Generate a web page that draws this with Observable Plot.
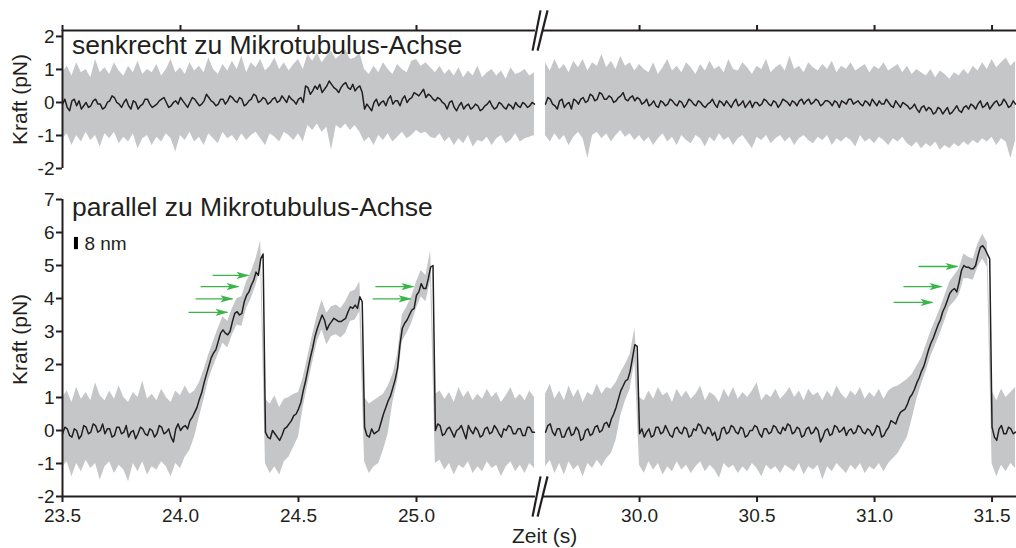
<!DOCTYPE html>
<html><head><meta charset="utf-8">
<script src="https://cdn.jsdelivr.net/npm/d3@7"></script>
<script src="https://cdn.jsdelivr.net/npm/@observablehq/plot@0.6"></script>
<style>
html,body{margin:0;padding:0;background:#fff;}
#chart{position:relative;width:1016px;height:548px;overflow:hidden;font-family:"Liberation Sans",Arial,sans-serif;}
#chart svg{position:absolute;left:0;}
</style></head><body><div id="chart"></div>
<script>
// ---- sampling of the traces (s) ----
const dtTrace = 0.01;   // black (filtered) trace
const dtBand = 0.02;    // grey raw-signal envelope
const leftStart = 23.50;
const rightStart = 29.60;

// ---- panel 1: senkrecht (perpendicular) ----
const perpLeftTrace = [-0.05,0.1,-0.15,-0.25,0.05,0.1,-0.1,0.05,-0.2,-0.1,0.0,-0.15,-0.1,0.05,0.1,-0.05,-0.05,-0.2,-0.15,0.0,
0.05,0.2,0.15,0.0,-0.05,-0.15,0.0,0.1,-0.1,-0.2,0.05,0.0,-0.2,-0.1,-0.05,0.1,0.1,-0.05,-0.15,-0.1,
-0.05,0.05,0.1,0.15,0.0,-0.15,-0.1,0.0,0.05,-0.05,0.15,0.05,-0.05,-0.15,0.0,0.15,0.1,0.0,-0.1,-0.05,
0.05,0.25,0.15,0.05,0.0,-0.1,-0.05,0.1,0.1,-0.05,0.05,0.2,0.15,0.05,0.0,0.15,0.1,-0.1,-0.05,0.05,
0.1,0.25,0.2,0.0,0.05,0.15,0.1,-0.05,0.0,0.1,0.15,0.0,0.05,0.2,0.1,0.0,0.2,0.1,0.05,-0.05,
0.1,0.15,0.0,0.5,0.45,0.25,0.35,0.5,0.4,0.55,0.3,0.4,0.5,0.65,0.55,0.45,0.4,0.3,0.45,0.55,
0.6,0.45,0.4,0.55,0.35,0.45,0.5,0.3,-0.2,-0.05,-0.15,-0.25,0.0,0.1,-0.1,0.0,0.05,-0.1,0.1,0.2,
-0.05,0.05,0.05,-0.1,0.1,0.2,0.0,0.1,0.15,0.3,0.25,0.2,0.3,0.4,0.15,0.25,0.2,0.1,0.05,0.15,
0.1,0.0,-0.05,-0.2,0.0,0.05,-0.15,-0.25,-0.1,0.0,-0.2,-0.1,-0.05,-0.2,-0.15,-0.05,-0.1,-0.25,-0.2,-0.1,
-0.05,0.05,-0.1,-0.2,-0.15,0.0,-0.05,-0.15,-0.2,-0.05,-0.1,-0.2,0.0,-0.1,-0.15,0.0,-0.05,-0.15,-0.1,0.0,
-0.05];
const perpLeftHi = [0.9,1.1,0.8,1.2,0.9,1.0,0.75,1.3,0.9,1.05,0.85,1.2,0.95,0.8,1.1,0.9,1.25,0.85,1.0,0.9,1.15,0.8,1.0,1.3,0.9,1.05,0.85,1.2,0.95,1.1,0.9,1.35,1.0,0.85,1.15,0.95,1.25,1.0,1.4,0.9,1.2,1.05,1.3,0.95,1.1,1.35,1.0,1.2,0.95,1.15,1.3,1.0,1.45,1.25,1.5,1.2,1.4,1.55,1.3,1.45,1.6,1.3,1.35,1.5,1.0,0.85,1.1,0.9,1.2,1.0,0.85,1.15,1.0,0.9,1.25,1.3,1.1,1.2,1.05,0.9,1.1,0.85,1.0,0.8,1.05,0.75,0.95,0.8,1.1,0.75,0.9,1.0,0.8,0.95,0.7,1.05,0.85,0.9,1.0,0.8,0.9];
const perpLeftLo = [-1.1,-0.95,-1.3,-1.0,-1.2,-0.9,-1.15,-1.0,-1.35,-0.95,-1.1,-0.9,-1.25,-1.05,-1.2,-0.95,-1.4,-1.1,-1.0,-1.3,-1.05,-1.2,-0.95,-1.1,-1.5,-1.0,-1.15,-0.9,-1.2,-1.05,-1.3,-0.95,-1.1,-1.25,-0.9,-1.1,-1.0,-1.2,-0.95,-1.15,-1.0,-0.9,-1.1,-1.3,-0.95,-1.05,-1.2,-0.9,-1.0,-1.15,-0.95,-1.2,-0.7,-0.85,-0.65,-0.9,-0.75,-1.45,-0.7,-0.8,-0.65,-0.85,-0.7,-0.9,-1.2,-1.05,-1.3,-1.0,-1.15,-0.95,-1.2,-1.05,-0.9,-1.1,-1.0,-0.85,-0.95,-0.9,-1.05,-1.1,-0.95,-1.2,-1.05,-1.3,-1.1,-1.25,-1.0,-1.35,-1.15,-1.2,-1.05,-1.3,-1.1,-1.0,-1.25,-1.15,-0.95,-1.2,-1.1,-1.05,-1.0];
const perpRightTrace = [-0.05,0.15,0.1,-0.05,-0.1,-0.2,0.05,0.1,-0.15,-0.05,0.0,-0.2,0.1,0.05,-0.05,0.1,0.15,0.0,0.05,0.25,
0.2,0.05,0.1,0.3,0.25,0.1,0.1,0.2,0.15,0.0,0.05,0.15,0.2,0.3,0.1,0.05,0.15,0.2,0.05,0.15,
0.1,-0.05,0.0,0.1,-0.1,-0.05,0.05,-0.1,-0.15,0.05,0.0,-0.1,-0.05,0.1,0.05,-0.05,-0.1,0.05,0.0,-0.15,
-0.05,0.1,0.05,-0.05,-0.1,0.05,0.0,-0.1,-0.15,-0.05,0.0,0.1,-0.05,-0.15,0.05,0.0,-0.1,0.05,-0.05,-0.15,
0.0,0.1,-0.1,-0.05,0.05,-0.15,-0.05,0.05,-0.15,0.0,0.0,-0.1,-0.05,0.1,0.05,-0.05,-0.1,0.05,0.0,-0.15,
-0.05,0.1,0.05,0.0,-0.1,0.05,0.0,-0.1,0.05,0.1,-0.05,0.05,0.1,-0.05,0.0,0.1,0.05,-0.1,-0.05,0.05,
0.05,0.0,-0.1,0.05,0.0,-0.15,0.05,0.0,-0.05,0.1,0.1,-0.05,0.0,0.05,-0.05,-0.1,0.05,0.0,-0.1,0.1,
0.0,-0.1,0.05,-0.05,-0.05,0.1,0.0,-0.1,-0.15,0.05,-0.05,-0.15,0.0,-0.05,-0.1,-0.2,-0.15,-0.05,-0.2,-0.3,
-0.15,-0.1,-0.25,-0.15,-0.2,-0.35,-0.3,-0.15,-0.2,-0.35,-0.25,-0.15,-0.35,-0.3,-0.2,-0.1,-0.25,-0.3,-0.15,-0.1,
-0.2,-0.05,-0.1,-0.2,-0.05,0.05,-0.15,-0.1,0.0,-0.2,-0.1,0.0,0.05,-0.1,-0.05,0.1,0.0,-0.15,-0.1,0.05,
-0.05];
const perpRightHi = [1.2,0.95,1.3,1.0,1.15,0.9,1.25,1.05,1.3,0.95,1.2,1.1,1.45,1.05,1.25,1.0,1.4,1.1,1.2,0.95,1.15,1.0,0.9,1.2,0.85,1.05,1.3,0.95,1.1,0.9,1.2,1.05,0.85,1.15,0.95,1.25,1.0,1.1,0.9,1.3,1.0,0.95,1.2,1.05,0.85,1.1,1.0,1.3,0.9,1.05,1.15,0.95,1.4,1.0,1.1,0.9,1.2,1.05,0.95,1.15,1.0,1.25,0.9,1.1,1.0,1.2,0.95,1.05,1.15,0.9,1.1,1.0,1.2,0.95,1.05,1.15,0.9,1.1,0.85,1.0,0.9,0.8,1.0,0.75,0.95,0.85,0.7,0.9,0.8,1.0,0.85,1.1,0.95,1.2,1.0,1.3,1.05,1.2,1.35,1.1,1.25];
const perpRightLo = [-1.0,-1.2,-0.95,-1.15,-1.0,-1.3,-1.05,-0.9,-1.1,-1.7,-1.0,-0.9,-1.1,-0.95,-1.2,-1.0,-0.85,-1.05,-0.95,-1.15,-1.0,-1.2,-1.05,-1.3,-1.1,-0.95,-1.2,-1.05,-1.3,-1.0,-1.15,-1.25,-1.0,-1.1,-1.35,-1.05,-1.2,-0.95,-1.15,-1.05,-1.3,-1.1,-1.0,-1.2,-1.4,-1.05,-1.15,-1.0,-1.25,-1.1,-1.0,-1.2,-1.05,-1.3,-1.1,-1.0,-1.15,-1.25,-1.05,-1.15,-1.0,-1.3,-1.1,-1.2,-1.05,-1.15,-1.35,-1.0,-1.2,-1.1,-1.25,-1.05,-1.15,-1.3,-1.1,-1.2,-1.05,-1.25,-1.35,-1.2,-1.4,-1.25,-1.35,-1.2,-1.45,-1.3,-1.4,-1.25,-1.35,-1.2,-1.3,-1.15,-1.25,-1.1,-1.2,-1.05,-1.3,-1.1,-1.2,-1.7,-1.15];

// ---- panel 2: parallel ----
const parLeftTrace = [-0.1,0.1,0.05,-0.15,-0.2,0.05,0.0,-0.25,-0.15,0.15,
0.1,-0.1,-0.05,0.2,0.15,-0.05,0.0,0.2,-0.1,0.05,
0.05,-0.2,-0.15,0.1,0.1,-0.1,-0.05,0.15,-0.2,-0.05,
0.0,-0.25,-0.1,0.1,0.05,-0.1,-0.15,0.05,0.0,-0.2,
-0.1,0.15,0.1,-0.1,-0.05,0.05,-0.2,-0.35,0.05,0.2,
0.0,0.1,0.15,0.05,0.3,0.4,0.55,0.7,0.95,1.15,
1.45,1.7,1.95,2.2,2.35,2.45,2.7,2.95,3.05,2.95,
2.9,3.0,3.3,3.55,3.6,3.5,3.55,3.9,4.1,4.2,
4.4,4.55,4.8,4.7,5.2,5.35,-0.05,-0.2,-0.25,0.0,
-0.1,-0.2,-0.3,-0.15,0.05,0.1,0.2,0.3,0.45,0.5,
0.65,0.85,1.2,1.5,1.85,2.2,2.5,2.85,3.1,3.3,
3.5,3.35,3.05,3.2,3.3,3.4,3.35,3.3,3.3,3.35,
3.4,3.6,3.75,3.7,3.8,3.7,4.05,3.9,0.1,-0.15,
-0.2,0.05,-0.1,-0.05,0.0,0.25,0.5,0.7,0.9,1.05,
1.3,1.55,1.9,2.6,3.1,3.25,3.35,3.5,3.65,3.7,
4.1,4.2,4.45,4.3,4.3,4.6,4.95,5.0,0.0,0.2,
0.15,-0.15,-0.1,0.05,0.1,-0.05,-0.2,0.0,0.05,0.15,
-0.05,-0.25,0.15,0.0,-0.1,0.1,0.0,-0.2,-0.15,0.05,
0.1,-0.1,-0.05,0.15,0.05,-0.1,-0.2,0.05,0.0,0.15,
0.1,-0.1,-0.1,0.05,0.05,-0.15,-0.15,0.1,0.1,-0.05,
-0.05];
const parLeftHi = [1.0,1.2,0.85,1.3,0.95,1.15,0.9,1.45,1.05,0.9,1.2,0.95,1.35,1.0,0.85,1.15,1.0,1.5,0.95,1.1,0.9,1.25,1.0,0.85,1.2,1.05,1.35,1.1,1.2,1.45,1.85,2.3,2.7,3.1,3.45,3.3,3.7,4.0,4.05,4.5,4.8,5.2,5.75,0.95,0.8,1.05,0.7,0.95,1.0,1.1,1.15,1.6,2.25,2.9,3.5,3.95,3.55,3.75,3.8,3.7,3.9,4.2,4.25,4.5,1.0,0.8,0.9,1.0,1.1,1.35,1.7,2.3,3.5,3.75,4.05,4.5,4.85,4.7,5.45,1.1,1.2,0.95,1.15,0.85,1.3,1.0,1.2,0.9,1.1,0.95,1.25,1.0,1.15,0.85,1.05,1.3,0.95,1.1,0.9,1.2,1.0];
const parLeftLo = [-1.1,-0.95,-1.4,-1.0,-1.25,-0.9,-1.15,-1.0,-1.5,-1.1,-0.95,-1.3,-1.05,-1.2,-1.55,-1.0,-1.25,-0.95,-1.35,-1.1,-1.2,-0.95,-1.1,-1.4,-1.0,-1.15,-0.8,-0.6,-0.2,0.4,0.95,1.55,1.95,2.3,2.65,2.5,2.9,3.2,3.15,3.7,4.0,4.4,4.95,-1.0,-1.3,-1.1,-1.35,-0.95,-0.8,-0.5,-0.2,0.7,1.4,2.05,2.7,3.05,2.6,2.85,2.9,2.8,2.95,3.3,3.35,3.6,-0.95,-1.3,-1.1,-1.0,-0.6,-0.1,0.85,1.5,2.7,2.95,3.25,3.7,4.05,3.9,4.55,-1.0,-0.9,-1.2,-1.0,-1.35,-1.05,-1.15,-0.95,-1.3,-1.1,-1.25,-0.95,-1.15,-1.05,-1.4,-1.1,-0.95,-1.25,-1.05,-1.3,-1.0,-1.15];
const parRightTrace = [-0.05,0.15,0.2,-0.05,-0.15,0.05,0.05,-0.2,-0.2,0.0,
0.1,-0.15,-0.1,0.1,0.0,-0.3,-0.25,0.0,0.05,-0.15,
-0.1,0.1,0.15,-0.05,0.0,0.2,0.25,0.1,0.35,0.5,
0.7,0.95,1.2,1.35,1.5,1.55,1.8,2.2,2.6,2.55,
-0.1,0.05,-0.2,-0.05,0.05,-0.2,-0.15,0.1,0.1,-0.1,
-0.05,0.15,0.0,-0.15,-0.2,0.05,0.1,-0.05,-0.1,0.1,
0.05,-0.2,-0.15,0.05,0.0,0.2,0.15,-0.05,-0.1,0.1,
0.05,-0.15,-0.05,-0.3,-0.25,0.05,0.1,-0.1,-0.05,0.15,
0.1,-0.05,-0.1,0.1,0.05,-0.2,-0.15,0.0,0.0,0.15,
0.1,-0.1,-0.2,0.05,0.05,-0.1,-0.05,0.15,0.1,-0.05,
-0.1,0.1,0.0,0.2,0.15,-0.1,-0.05,0.1,0.05,-0.2,
-0.15,0.05,0.1,-0.1,-0.05,0.1,0.0,-0.35,-0.2,0.0,
0.05,-0.15,-0.1,0.15,0.1,-0.05,0.0,0.1,-0.15,0.0,
0.05,-0.1,-0.05,0.15,0.1,-0.05,-0.1,0.05,0.0,-0.15,
-0.05,0.15,0.1,-0.2,-0.15,0.0,0.1,0.3,0.25,0.2,
0.4,0.55,0.6,0.65,0.8,1.0,1.1,1.25,1.45,1.6,
1.8,1.95,2.2,2.45,2.65,2.8,3.0,3.2,3.35,3.6,
3.75,3.95,4.15,4.25,4.3,4.2,4.5,4.85,5.0,4.95,
4.95,4.9,4.9,5.0,5.3,5.55,5.6,5.5,5.35,5.2,
0.1,-0.2,-0.3,0.05,0.15,-0.1,-0.1,0.1,0.05,-0.1,
-0.05];
const parRightHi = [1.1,1.4,0.95,1.2,0.9,1.35,1.0,1.25,0.85,1.15,1.05,1.4,1.1,1.3,1.25,1.45,1.75,2.0,2.3,3.1,1.0,0.9,1.2,0.95,1.3,1.05,1.15,0.85,1.25,1.0,1.2,0.95,1.1,1.35,0.9,1.15,1.05,0.85,1.25,1.0,1.3,0.95,1.15,1.0,1.2,1.45,0.9,1.1,1.0,1.25,0.95,1.1,1.3,1.0,1.2,0.9,1.25,1.05,1.15,0.9,1.2,1.0,1.35,1.1,0.95,1.2,1.05,1.3,0.95,1.15,1.0,1.25,0.95,1.2,1.3,1.35,1.45,1.55,1.7,1.95,2.2,2.6,3.0,3.35,3.7,4.1,4.5,4.7,4.9,5.35,5.25,5.2,5.65,5.95,5.7,1.2,0.9,1.25,1.0,1.15,1.3];
const parRightLo = [-1.1,-0.9,-1.3,-1.0,-1.35,-0.95,-1.2,-1.05,-1.4,-1.0,-1.15,-0.9,-1.1,-0.85,-0.7,-0.3,0.45,0.9,1.25,2.1,-1.05,-1.3,-0.95,-1.2,-1.0,-1.35,-1.1,-1.25,-0.95,-1.2,-1.05,-1.3,-1.1,-0.95,-1.25,-1.05,-1.2,-1.45,-1.0,-1.15,-1.05,-1.3,-1.1,-1.25,-1.0,-1.15,-1.4,-1.05,-1.2,-1.1,-1.3,-1.05,-1.15,-1.25,-1.0,-1.35,-1.1,-1.2,-1.05,-1.5,-1.1,-1.25,-1.0,-1.15,-1.3,-1.05,-1.2,-1.0,-1.3,-1.1,-1.2,-1.0,-1.25,-1.0,-0.85,-0.7,-0.45,-0.2,0.35,0.95,1.4,1.8,2.25,2.6,2.95,3.35,3.75,3.9,4.1,4.6,4.6,4.55,4.95,5.2,4.95,-1.0,-1.4,-1.05,-1.25,-1.0,-1.15];

// ---- green step arrows (time start, time end, force) ----
const arrowT1 = [24.136, 24.085, 24.064, 24.034, 24.826, 24.814, 31.187, 31.123, 31.081];
const arrowT2 = [24.288, 24.246, 24.220, 24.199, 24.987, 24.975, 31.353, 31.285, 31.247];
const arrowF  = [4.70, 4.36, 3.99, 3.58, 4.36, 3.99, 4.97, 4.36, 3.88];

// ---- axes ----
const xTicksLeft = [23.5, 24.0, 24.5, 25.0];
const xTicksRight = [30.0, 30.5, 31.0, 31.5];
const yTicksTop = [-2, -1, 0, 1, 2];
const yTicksBottom = [-2, -1, 0, 1, 2, 3, 4, 5, 6, 7];
const xDomainLeft = [23.5, 25.517];
const xDomainRight = [29.57, 31.604];
const yDomainTop = [-2, 2.18];
const yDomainBottom = [-2, 7];
const axisEndLeft = 25.504, axisStartRight = 29.587;
// break marks "//" (in right-hand time units)
const breakT1 = [29.5447, 29.566];
const breakT2 = [29.5787, 29.6085];

const titleTop = "senkrecht zu Mikrotubulus-Achse";
const titleBottom = "parallel zu Mikrotubulus-Achse";
const yLabel = "Kraft (pN)";
const xLabel = "Zeit (s)";
const scaleBarLabel = "8 nm";

const ink = "#231f20", gray = "#c5c6c8", green = "#3bb54a";
const font = "'Liberation Sans', Arial, Helvetica, sans-serif";

function traceRows(start, vals) {
  return vals.map((v, i) => ({t: start + i * dtTrace, v}));
}
function bandRows(start, hi, lo) {
  return hi.map((h, i) => ({t: start + i * dtBand, hi: h, lo: lo[i]}));
}
const arrows = arrowF.map((f, i) => ({t1: arrowT1[i], t2: arrowT2[i], f}));
const arrowsL = arrows.filter(d => d.t2 < 26);
const arrowsR = arrows.filter(d => d.t2 > 26);

const arrowHead = {
  draw(ctx) {
    ctx.moveTo(1, 0);
    ctx.lineTo(-12, -3.6);
    ctx.lineTo(-9, 0);
    ctx.lineTo(-12, 3.6);
    ctx.closePath();
  }
};

const W = 1016, left = 62, brk = 538;
const style = {fontFamily: font, color: ink, background: "transparent", overflow: "visible"};

function breaks(yc, half) {
  return breakT1.map((t, i) => ({x1: t, x2: breakT2[i], y1: yc - half, y2: yc + half}));
}

function panel({height, mt, mb, yDomain, yTicks, axisY, side, trace, band, extra}) {
  const isLeft = side === "L";
  return Plot.plot({
    width: W, height,
    marginTop: mt, marginBottom: mb,
    marginLeft: isLeft ? left : brk, marginRight: isLeft ? W - brk : 0,
    style,
    x: {domain: isLeft ? xDomainLeft : xDomainRight, axis: null},
    y: {domain: yDomain, axis: null},
    marks: [
      Plot.areaY(band, {x: "t", y1: "lo", y2: "hi", fill: gray}),
      Plot.lineY(trace, {x: "t", y: "v", stroke: ink, strokeWidth: 1.5}),
      Plot.ruleY([axisY], {x1: isLeft ? xDomainLeft[0] : axisStartRight, x2: isLeft ? axisEndLeft : xDomainRight[1], stroke: ink, strokeWidth: 2}),
      ...(isLeft ? [
        Plot.ruleX([xDomainLeft[0]], {y1: yDomain[0], y2: yDomain[1], stroke: ink, strokeWidth: 2}),
        Plot.axisY(yTicks, {anchor: "left", tickSize: 6, tickPadding: 2, strokeWidth: 2, fontSize: 19, tickFormat: d => String(d), label: null})
      ] : [
        Plot.link(breaks(axisY, 0.61), {x1: "x1", x2: "x2", y1: "y1", y2: "y2", stroke: ink, strokeWidth: 2.2})
      ]),
      ...extra
    ]
  });
}

const topLeft = panel({
  height: 180, mt: 30, mb: 12, yDomain: yDomainTop, yTicks: yTicksTop, axisY: yDomainTop[1], side: "L",
  trace: traceRows(leftStart, perpLeftTrace), band: bandRows(leftStart, perpLeftHi, perpLeftLo),
  extra: [
    Plot.axisX(xTicksLeft, {anchor: "top", tickSize: 6, strokeWidth: 2, tickFormat: () => "", label: null}),
    Plot.text([titleTop], {x: 23.54, y: 1.72, textAnchor: "start", fontSize: 26.5, fill: ink}),
    Plot.text([yLabel], {x: 23.322, y: 0.09, rotate: -90, fontSize: 21, fill: ink})
  ]
});
const topRight = panel({
  height: 180, mt: 30, mb: 12, yDomain: yDomainTop, yTicks: yTicksTop, axisY: yDomainTop[1], side: "R",
  trace: traceRows(rightStart, perpRightTrace), band: bandRows(rightStart, perpRightHi, perpRightLo),
  extra: [
    Plot.axisX(xTicksRight, {anchor: "top", tickSize: 6, strokeWidth: 2, tickFormat: () => "", label: null})
  ]
});
const bottomLeft = panel({
  height: 368, mt: 19, mb: 52, yDomain: yDomainBottom, yTicks: yTicksBottom, axisY: yDomainBottom[0], side: "L",
  trace: traceRows(leftStart, parLeftTrace), band: bandRows(leftStart, parLeftHi, parLeftLo),
  extra: [
    Plot.axisX(xTicksLeft, {anchor: "bottom", tickSize: 6, tickPadding: 6, strokeWidth: 2, fontSize: 19, tickFormat: d => d.toFixed(1), label: null}),
    Plot.link(arrowsL, {x1: "t1", x2: "t2", y1: "f", y2: "f", stroke: green, strokeWidth: 1.3}),
    Plot.dot(arrowsL, {x: "t2", y: "f", symbol: arrowHead, fill: green, stroke: "none", r: 4}),
    Plot.ruleX([23.557], {y1: 5.48, y2: 5.85, stroke: "#000", strokeWidth: 4}),
    Plot.text([scaleBarLabel], {x: 23.593, y: 5.66, textAnchor: "start", fontSize: 19, fill: ink}),
    Plot.text([titleBottom], {x: 23.54, y: 6.76, textAnchor: "start", fontSize: 26.5, fill: ink}),
    Plot.text([yLabel], {x: 23.322, y: 2.76, rotate: -90, fontSize: 21, fill: ink})
  ]
});
const bottomRight = panel({
  height: 368, mt: 19, mb: 52, yDomain: yDomainBottom, yTicks: yTicksBottom, axisY: yDomainBottom[0], side: "R",
  trace: traceRows(rightStart, parRightTrace), band: bandRows(rightStart, parRightHi, parRightLo),
  extra: [
    Plot.axisX(xTicksRight, {anchor: "bottom", tickSize: 6, tickPadding: 6, strokeWidth: 2, fontSize: 19, tickFormat: d => d.toFixed(1), label: null}),
    Plot.link(arrowsR, {x1: "t1", x2: "t2", y1: "f", y2: "f", stroke: green, strokeWidth: 1.3}),
    Plot.dot(arrowsR, {x: "t2", y: "f", symbol: arrowHead, fill: green, stroke: "none", r: 4}),
    Plot.text([xLabel], {x: 29.596, y: -3.2, fontSize: 21, fill: ink})
  ]
});

const chart = document.getElementById("chart");
for (const [svg, top] of [[topLeft, 0], [topRight, 0], [bottomLeft, 180], [bottomRight, 180]]) {
  svg.style.top = top + "px";
  chart.appendChild(svg);
}
</script></body></html>
